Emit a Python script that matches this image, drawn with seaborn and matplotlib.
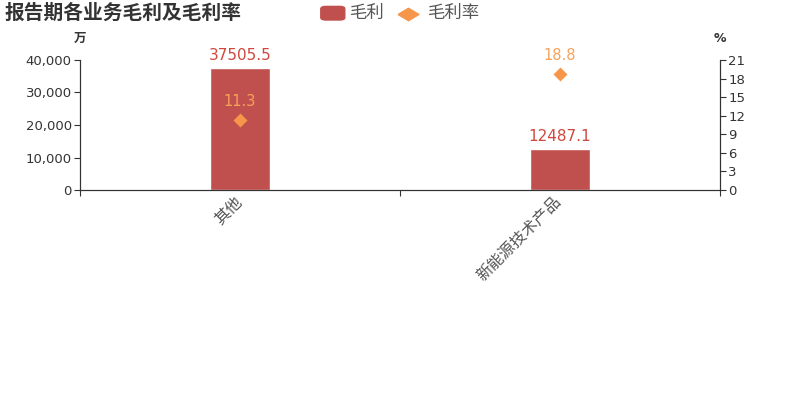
import matplotlib
matplotlib.use("Agg")
import matplotlib.pyplot as plt
import matplotlib.transforms as mtransforms
import seaborn as sns
import pandas as pd
from matplotlib.ticker import FuncFormatter, FixedLocator
from matplotlib.patches import FancyBboxPatch
from matplotlib.lines import Line2D

categories = ["其他", "新能源技术产品"]
gross_profit = [37505.5, 12487.1]
gross_margin = [11.3, 18.8]
left_ticks = [0, 10000, 20000, 30000, 40000]
right_ticks = [0, 3, 6, 9, 12, 15, 18, 21]

BAR = "#c0504d"
DIA = "#f5964a"
TXT = "#333333"

sns.set_theme(style="white")
plt.rcParams['font.family'] = ['DejaVu Sans', 'Noto Sans CJK SC']

fig = plt.figure(figsize=(8, 4), dpi=100)
ax = fig.add_axes([0.1, 0.525, 0.8, 0.325])

df = pd.DataFrame({"cat": categories, "gp": gross_profit, "gm": gross_margin})
sns.barplot(data=df, x="cat", y="gp", ax=ax, color=BAR, width=0.19, saturation=1)
ax.set_ylim(0, 40000)
ax.set_yticks(left_ticks)
ax.yaxis.set_major_formatter(FuncFormatter(lambda v, p: f"{int(v):,}"))
for c in ax.containers:
    ax.bar_label(c, labels=[f"{v:.1f}" for v in gross_profit], padding=4,
                 color="#d0473f", fontsize=11)

ax2 = ax.twinx()
sns.pointplot(data=df, x="cat", y="gm", ax=ax2, color=DIA, marker="D",
              linestyle="none", markersize=5)
ax2.set_ylim(0, 21)
ax2.set_yticks(right_ticks)
for i, v in enumerate(gross_margin):
    ax2.annotate(f"{v}", (i, v), xytext=(0, 8), textcoords="offset points",
                 ha="center", va="bottom", color="#f7a25a", fontsize=10.5)

for a in (ax, ax2):
    a.set_xlim(-0.5, 1.5)
    a.set_xlabel("")
    a.set_ylabel("")
    a.spines["top"].set_visible(False)
    for s in ("left", "right", "bottom"):
        a.spines[s].set_color(TXT)
        a.spines[s].set_linewidth(0.8)
    a.tick_params(axis="y", length=4, width=0.8, color=TXT, labelsize=9.5,
                  labelcolor=TXT, pad=2)

ax.tick_params(axis="y", left=True)
ax2.tick_params(axis="y", right=True)
ax.set_xticks(range(len(categories)))
ax.set_xticklabels(categories, rotation=45, ha="right", rotation_mode="anchor",
                   color="#555555", fontsize=11.5)
ax.tick_params(axis="x", length=0, pad=3)
shift = mtransforms.ScaledTranslation(-6 / 100, 0, fig.dpi_scale_trans)
for lbl in ax.get_xticklabels():
    lbl.set_transform(lbl.get_transform() + shift)
ax.xaxis.set_minor_locator(FixedLocator([-0.5, 0.5, 1.5]))
ax.tick_params(axis="x", which="minor", bottom=True, length=4, width=0.8, color=TXT)
ax2.tick_params(axis="x", bottom=False, labelbottom=False)

fig.text(0.006, 0.967, "报告期各业务毛利及毛利率", fontsize=14.2, fontweight="bold",
         color=TXT, va="center", ha="left")
fig.text(0.1, 0.905, "万", fontsize=9, fontweight="bold", color=TXT, ha="center", va="center")
fig.text(0.9, 0.905, "%", fontsize=9, fontweight="bold", color=TXT, ha="center", va="center")

# legend
fig.patches.append(FancyBboxPatch((0.401, 0.950), 0.030, 0.034,
                                  boxstyle="round,pad=0,rounding_size=0.006",
                                  transform=fig.transFigure, color=BAR))
fig.text(0.438, 0.967, "毛利", fontsize=12.5, color="#555555", va="center")
wide_diamond = [(-1, 0), (0, 0.6), (1, 0), (0, -0.6), (-1, 0)]
fig.lines.append(Line2D([0.510], [0.966], marker=wide_diamond, markersize=15, color=DIA,
                        transform=fig.transFigure, linestyle="none"))
fig.text(0.535, 0.967, "毛利率", fontsize=12.5, color="#555555", va="center")

fig.savefig("out.png", dpi=100)
